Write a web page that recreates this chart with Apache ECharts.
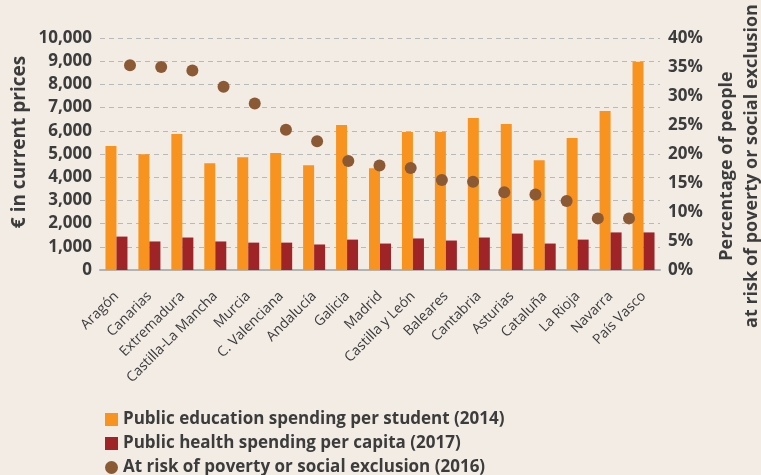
<!DOCTYPE html>
<html>
<head>
<meta charset="utf-8">
<title>Spending and poverty by region</title>
<script src="https://cdn.jsdelivr.net/npm/echarts@6/dist/echarts.min.js"></script>
<style>
    html, body { margin: 0; padding: 0; background: #f2ece5; }
    #main { width: 761px; height: 475px; }
</style>
</head>
<body>
<div id="main"></div>
<script>
    // 地区
    var regions = ['Aragón', 'Canarias', 'Extremadura', 'Castilla-La Mancha', 'Murcia', 'C. Valenciana',
        'Andalucía', 'Galicia', 'Madrid', 'Castilla y León', 'Baleares', 'Cantabria', 'Asturias',
        'Cataluña', 'La Rioja', 'Navarra', 'País Vasco'];
    var eduSpending = [5340, 4990, 5860, 4600, 4860, 5040, 4520, 6250, 4390, 5950, 5950, 6550, 6290, 4730, 5690, 6850, 8980];
    var healthSpending = [1440, 1230, 1400, 1230, 1180, 1180, 1100, 1310, 1140, 1360, 1270, 1400, 1570, 1140, 1310, 1620, 1620];
    var povertyRisk = [35.3, 35.0, 34.4, 31.6, 28.7, 24.2, 22.2, 18.8, 18.0, 17.6, 15.5, 15.2, 13.4, 13.0, 11.9, 8.9, 8.9];

    var seriesNames = ['Public education spending per student (2014)',
        'Public health spending per capita (2017)',
        'At risk of poverty or social exclusion (2016)'];

    var textColor = '#3c3c3c';
    var font = 'Open Sans';

    var myChart = echarts.init(document.getElementById('main'));

    myChart.setOption({
        backgroundColor: '#f2ece5',
        textStyle: { fontFamily: font },
        legend: {
            orient: 'vertical',
            left: 100,
            top: 406,
            height: 70,
            itemWidth: 13,
            itemHeight: 13,
            itemGap: 7,
            textStyle: { fontSize: 17, lineHeight: 17, fontWeight: 'bold', color: textColor },
            data: [
                { name: seriesNames[0], icon: 'rect' },
                { name: seriesNames[1], icon: 'rect' },
                { name: seriesNames[2], icon: 'circle' }
            ]
        },
        grid: [
            { left: 100, width: 560, top: 38, bottom: 205 },   // 柱状
            { left: 130, width: 499, top: 38, bottom: 205 }    // 散点
        ],
        xAxis: [
            {
                type: 'category', gridIndex: 0, data: regions,
                axisLine: { lineStyle: { color: '#b3b3b3', width: 2 } },
                axisTick: { show: false },
                axisLabel: { rotate: 45, interval: 0, margin: 24, fontSize: 14, color: textColor }
            },
            {
                type: 'category', gridIndex: 1, data: regions, boundaryGap: false,
                axisLine: { show: false }, axisTick: { show: false }, axisLabel: { show: false }
            }
        ],
        yAxis: [
            {
                type: 'value', gridIndex: 0, min: 0, max: 10000, interval: 1000,
                axisLine: { show: false }, axisTick: { show: false },
                axisLabel: {
                    margin: 8, fontSize: 17, fontWeight: 'bold', color: textColor,
                    formatter: function (v) { return v.toLocaleString('en-US'); }
                },
                splitLine: { lineStyle: { color: '#b9b9b9', type: [5, 4], width: 1.2 } }
            },
            {
                type: 'value', gridIndex: 0, position: 'right', min: 0, max: 40, interval: 5,
                axisLine: { show: false }, axisTick: { show: false }, splitLine: { show: false },
                axisLabel: { margin: 8, fontSize: 17, fontWeight: 'bold', color: textColor, formatter: '{value}%' }
            },
            { type: 'value', gridIndex: 1, min: 0, max: 40, show: false }
        ],
        graphic: [
            {
                type: 'text', x: 20, y: 142, rotation: Math.PI / 2,
                style: {
                    text: '€ in current prices', fill: textColor, font: 'bold 19px "Open Sans"',
                    align: 'center', verticalAlign: 'middle'
                }
            },
            {
                type: 'text', x: 739, y: 166, rotation: Math.PI / 2,
                style: {
                    text: 'Percentage of people\nat risk of poverty or social exclusion', fill: textColor,
                    font: 'bold 18px "Open Sans"', align: 'center', verticalAlign: 'middle', lineHeight: 25
                }
            }
        ],
        series: [
            {
                name: seriesNames[0], type: 'bar', xAxisIndex: 0, yAxisIndex: 0,
                barWidth: 11, barGap: '0%', itemStyle: { color: '#f7931e' },
                data: eduSpending
            },
            {
                name: seriesNames[1], type: 'bar', xAxisIndex: 0, yAxisIndex: 0,
                barWidth: 11, barGap: '0%', itemStyle: { color: '#9e2427' },
                data: healthSpending
            },
            {
                name: seriesNames[2], type: 'scatter', xAxisIndex: 1, yAxisIndex: 2,
                symbolSize: 12, itemStyle: { color: '#8b5a35', opacity: 1 },
                data: povertyRisk
            }
        ]
    });
</script>
</body>
</html>
